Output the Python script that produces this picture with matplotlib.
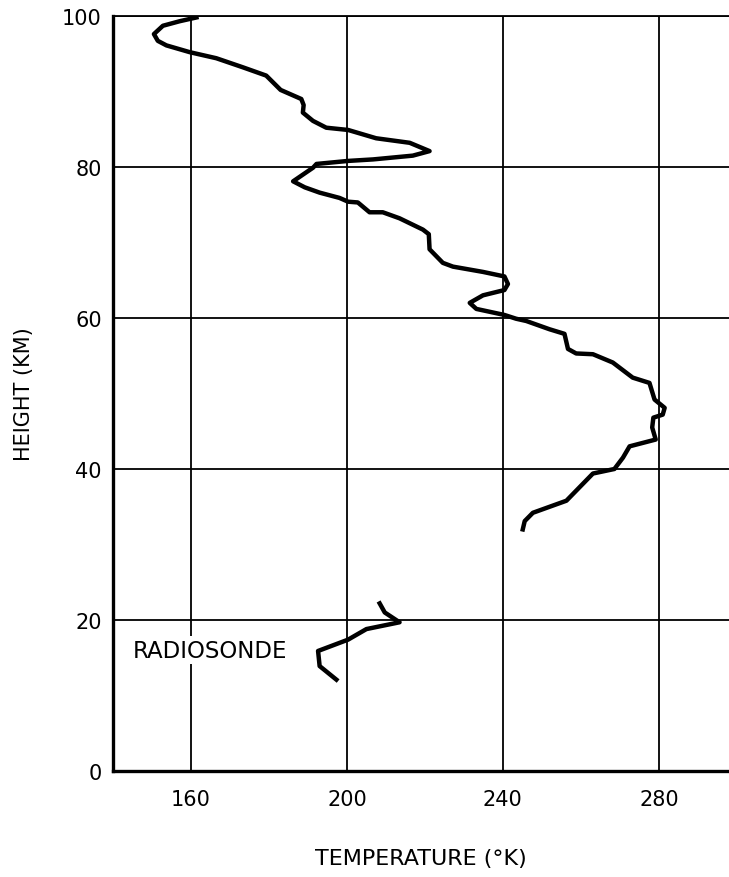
import matplotlib
matplotlib.use("Agg")
import matplotlib.pyplot as plt

# rocket temperature profile (K) vs height (km)
rocket_temp = [161.4, 157.1, 152.8, 150.5, 151.5, 153.7, 159.7, 166.5, 173.3, 179.3,
               183.0, 188.3, 188.9, 188.7, 191.3, 194.7, 200.3, 207.5, 216.1, 221.2,
               216.9, 206.7, 200.3, 192.2, 191.3, 186.2, 189.2, 193.0, 198.1, 200.3,
               202.8, 205.8, 209.2, 213.5, 219.5, 221.0, 221.2, 224.6, 227.2, 234.9,
               240.4, 241.3, 240.4, 234.9, 231.5, 233.2, 240.4, 243.4, 246.0, 252.0,
               255.8, 256.7, 258.8, 263.1, 268.2, 273.3, 277.6, 278.9, 281.5, 281.0,
               278.6, 278.3, 279.2, 272.5, 270.8, 268.6, 263.1, 256.3, 247.7, 245.6,
               245.1]
rocket_height = [99.8, 99.3, 98.7, 97.6, 96.7, 96.1, 95.2, 94.4, 93.2, 92.1,
                 90.2, 89.0, 88.2, 87.2, 86.1, 85.2, 84.9, 83.8, 83.2, 82.1,
                 81.5, 81.0, 80.8, 80.4, 79.9, 78.1, 77.3, 76.6, 75.9, 75.4,
                 75.3, 74.0, 74.0, 73.2, 71.7, 71.1, 69.1, 67.3, 66.8, 66.1,
                 65.5, 64.5, 63.7, 63.0, 62.0, 61.2, 60.4, 59.9, 59.6, 58.5,
                 57.9, 55.9, 55.3, 55.2, 54.1, 52.1, 51.4, 49.2, 48.1, 47.2,
                 46.8, 45.5, 43.9, 43.0, 41.5, 40.0, 39.4, 35.8, 34.2, 33.1,
                 32.0]

# radiosonde profile
sonde_temp = [208.4, 209.7, 213.5, 205.0, 200.3, 192.6, 193.0, 197.3]
sonde_height = [22.2, 21.0, 19.7, 18.8, 17.4, 15.9, 13.9, 12.1]

x_ticks = [160, 200, 240, 280]
y_ticks = [0, 20, 40, 60, 80, 100]

fig = plt.figure(figsize=(7.29, 8.78), dpi=100)
ax = fig.add_axes([0.155, 0.1207, 0.845, 0.860])

ax.set_xlim(140, 298)
ax.set_ylim(0, 100)
ax.set_xticks(x_ticks)
ax.set_yticks(y_ticks)
ax.tick_params(axis="both", length=0, labelsize=15)
ax.tick_params(axis="x", pad=13)
ax.tick_params(axis="y", pad=8)

ax.grid(True, color="black", linewidth=1.3)
ax.set_axisbelow(True)

for side in ["left", "bottom"]:
    ax.spines[side].set_linewidth(2.4)
ax.spines["top"].set_linewidth(1.3)
ax.spines["right"].set_visible(False)

ax.plot(rocket_temp, rocket_height, color="black", linewidth=3.2, solid_joinstyle="round")
ax.plot(sonde_temp, sonde_height, color="black", linewidth=3.2, solid_joinstyle="round")

ax.text(145.0, 16.0, "RADIOSONDE", fontsize=16.5, va="center", ha="left",
        bbox=dict(facecolor="white", edgecolor="none", pad=2))

ax.set_xlabel("TEMPERATURE (°K)", fontsize=16, labelpad=28)
ax.set_ylabel("HEIGHT (KM)", fontsize=15, labelpad=20)

fig.savefig("out.png", dpi=100)
